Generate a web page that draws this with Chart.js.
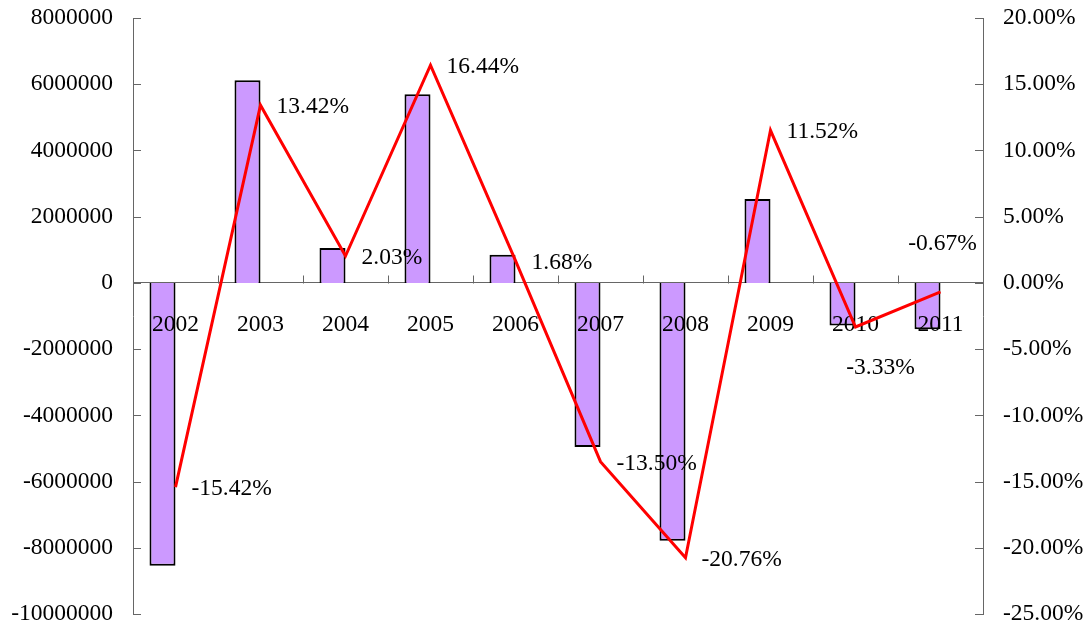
<!DOCTYPE html>
<html>
<head>
<meta charset="utf-8">
<script src="https://cdn.jsdelivr.net/npm/chart.js@4.4.1/dist/chart.umd.min.js"></script>
<style>
    html, body { margin: 0; padding: 0; background: #fff; }
    #wrap { width: 1088px; height: 627px; position: relative; }
</style>
</head>
<body>
<div id="wrap"><canvas id="grafico"></canvas></div>
<script>
// años y valores
var anios = ['2002', '2003', '2004', '2005', '2006', '2007', '2008', '2009', '2010', '2011'];
var montos = [-8540000, 6120000, 1050000, 5700000, 850000, -4960000, -7790000, 2530000, -1290000, -1400000];
var tasas = [-15.42, 13.42, 2.03, 16.44, 1.68, -13.50, -20.76, 11.52, -3.33, -0.67];
// dónde va cada etiqueta de porcentaje
var posEtiquetas = ['right', 'right', 'right', 'right', 'right', 'right', 'right', 'right', 'below', 'above'];

var fuente = "'Liberation Serif', 'Times New Roman', serif";
var tamFuente = 23.5;
Chart.defaults.font.family = fuente;
Chart.defaults.font.size = tamFuente;
Chart.defaults.color = '#000';

// marcas cortas hacia adentro en los ejes
var marcasEjes = {
    id: 'marcasEjes',
    afterDraw: function (chart) {
        var ctx = chart.ctx;
        var area = chart.chartArea;
        var y = chart.scales.y, y1 = chart.scales.y1, x = chart.scales.x;
        ctx.save();
        ctx.strokeStyle = '#666';
        ctx.lineWidth = 1;
        ctx.beginPath();
        y.ticks.forEach(function (t) {
            var py = Math.round(y.getPixelForValue(t.value)) + 0.5;
            ctx.moveTo(area.left, py);
            ctx.lineTo(area.left + 8, py);
        });
        y1.ticks.forEach(function (t) {
            var py = Math.round(y1.getPixelForValue(t.value)) + 0.5;
            ctx.moveTo(area.right - 8, py);
            ctx.lineTo(area.right, py);
        });
        var cero = Math.round(y.getPixelForValue(0)) + 0.5;
        for (var i = 1; i < anios.length; i++) {
            var px = Math.round((x.getPixelForValue(i - 1) + x.getPixelForValue(i)) / 2) + 0.5;
            ctx.moveTo(px, cero - 8);
            ctx.lineTo(px, cero);
        }
        ctx.stroke();
        ctx.restore();
    }
};

// años bajo la línea del cero: encima de las barras, debajo de la línea roja
var etiquetasAnios = {
    id: 'etiquetasAnios',
    beforeDatasetDraw: function (chart, args) {
        if (args.index != 2) return;
        var ctx = chart.ctx;
        var x = chart.scales.x, y = chart.scales.y;
        var cero = y.getPixelForValue(0);
        ctx.save();
        ctx.font = tamFuente + 'px ' + fuente;
        ctx.fillStyle = '#000';
        ctx.textAlign = 'center';
        ctx.textBaseline = 'middle';
        anios.forEach(function (a, i) {
            ctx.fillText(a, x.getPixelForValue(i), cero + 42);
        });
        ctx.restore();
    }
};

// etiquetas de porcentaje junto a la línea
var etiquetasLinea = {
    id: 'etiquetasLinea',
    afterDatasetsDraw: function (chart) {
        var ctx = chart.ctx;
        var meta = chart.getDatasetMeta(2);
        ctx.save();
        ctx.font = tamFuente + 'px ' + fuente;
        ctx.fillStyle = '#000';
        ctx.textBaseline = 'middle';
        meta.data.forEach(function (pt, i) {
            var txt = tasas[i].toFixed(2) + '%';
            var pos = posEtiquetas[i];
            if (pos == 'below') {
                ctx.textAlign = 'center';
                ctx.fillText(txt, pt.x + 25, pt.y + 41);
            } else if (pos == 'above') {
                ctx.textAlign = 'center';
                ctx.fillText(txt, pt.x + 2, pt.y - 48);
            } else {
                ctx.textAlign = 'left';
                ctx.fillText(txt, pt.x + 16, pt.y + 2);
            }
        });
        ctx.restore();
    }
};

function sinRelleno(s, ancho) {
    s.width = ancho;
    s.paddingTop = 0;
    s.paddingBottom = 0;
}

var data = {
    labels: anios,
    datasets: [{
        type: 'bar',
        data: montos,
        backgroundColor: '#CC99FF',
        borderColor: '#000',
        borderWidth: 2,
        yAxisID: 'y',
        order: 2
    }, {
        // serie vacía que ocupa el segundo lugar de cada grupo
        type: 'bar',
        data: anios.map(function () { return null; }),
        backgroundColor: 'rgba(0,0,0,0)',
        yAxisID: 'y',
        order: 3
    }, {
        type: 'line',
        data: tasas,
        borderColor: '#FF0000',
        borderWidth: 3,
        pointRadius: 0,
        tension: 0,
        fill: false,
        yAxisID: 'y1',
        order: 1
    }]
};

var options = {
    responsive: true,
    maintainAspectRatio: false,
    animation: false,
    layout: { padding: { top: 18, bottom: 13, left: 0, right: 0 } },
    datasets: {
        bar: { categoryPercentage: 0.612, barPercentage: 1 }
    },
    plugins: {
        legend: { display: false },
        tooltip: { enabled: false }
    },
    scales: {
        x: {
            position: { y: 0 },
            grid: { display: false, drawTicks: false },
            border: { display: true, color: '#666', width: 1 },
            ticks: { display: false }
        },
        y: {
            position: 'left',
            min: -10000000,
            max: 8000000,
            grid: { display: false, drawTicks: false },
            border: { display: true, color: '#666', width: 1 },
            ticks: {
                stepSize: 2000000,
                padding: 20,
                callback: function (v) { return String(v); }
            },
            afterFit: function (s) { sinRelleno(s, 133); }
        },
        y1: {
            position: 'right',
            min: -25,
            max: 20,
            grid: { display: false, drawTicks: false },
            border: { display: true, color: '#666', width: 1 },
            ticks: {
                stepSize: 5,
                padding: 20,
                callback: function (v) { return v.toFixed(2) + '%'; }
            },
            afterFit: function (s) { sinRelleno(s, 105); }
        }
    }
};

var ctx = document.getElementById('grafico').getContext('2d');
var grafico = new Chart(ctx, {
    type: 'bar',
    data: data,
    options: options,
    plugins: [marcasEjes, etiquetasAnios, etiquetasLinea]
});
</script>
</body>
</html>
